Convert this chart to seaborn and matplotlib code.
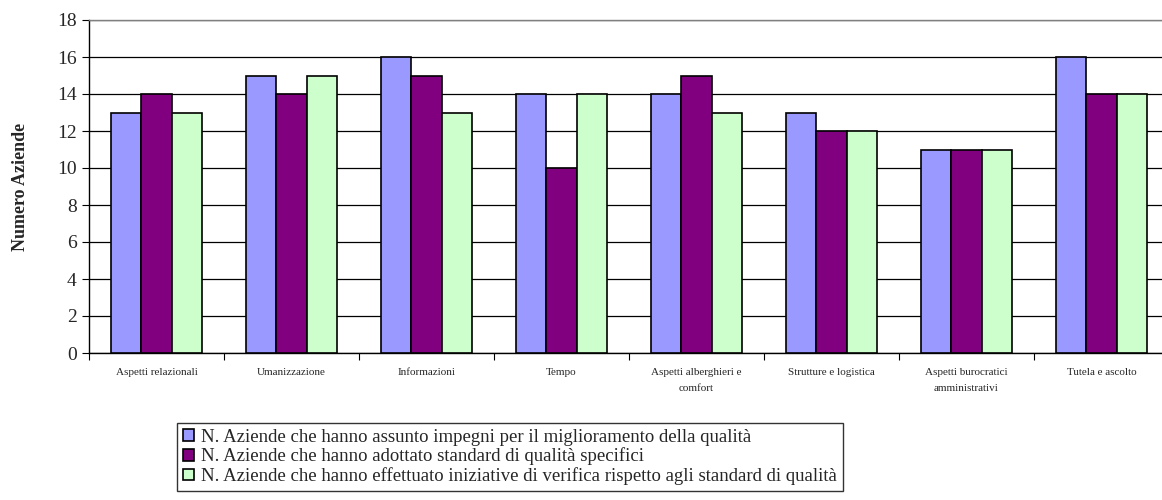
import matplotlib
matplotlib.use('Agg')
import matplotlib.pyplot as plt
import seaborn as sns
import pandas as pd
import numpy as np

# Data
categories = ['Aspetti relazionali', 'Umanizzazione', 'Informazioni', 'Tempo',
              'Aspetti alberghieri e\ncomfort', 'Strutture e logistica',
              'Aspetti burocratici\namministrativi', 'Tutela e ascolto']
series = ['N. Aziende che hanno assunto impegni per il miglioramento della qualità',
          'N. Aziende che hanno adottato standard di qualità specifici',
          'N. Aziende che hanno effettuato iniziative di verifica rispetto agli standard di qualità']
impegni = [13, 15, 16, 14, 14, 13, 11, 16]
standard = [14, 14, 15, 10, 15, 12, 11, 14]
verifica = [13, 15, 13, 14, 13, 12, 11, 14]
colors = ['#9999FF', '#800080', '#CCFFCC']

df = pd.DataFrame({
    'categoria': categories * 3,
    'serie': [series[0]] * 8 + [series[1]] * 8 + [series[2]] * 8,
    'valore': impegni + standard + verifica,
})

sns.set_theme(style='white')
plt.rcParams['font.family'] = ['Liberation Serif', 'DejaVu Serif']

fig = plt.figure(figsize=(11.62, 5.0), dpi=100)
ax = fig.add_axes([89 / 1162, 1 - 353 / 500, 1080 / 1162, 333 / 500])

sns.barplot(data=df, x='categoria', y='valore', hue='serie', palette=colors,
            width=0.667, edgecolor='black', linewidth=1.2, saturation=1,
            ax=ax, zorder=3)

ax.set_ylim(0, 18)
ax.set_xlim(-0.5, len(categories) - 0.5)
ax.set_yticks(range(0, 19, 2))
ax.set_yticklabels([str(v) for v in range(0, 19, 2)], fontsize=14)
ax.yaxis.grid(True, color='black', linewidth=0.9, zorder=0)
ax.set_axisbelow(True)

# x labels at centers, ticks at category boundaries
ax.set_xticks(range(len(categories)))
ax.set_xticklabels(categories, fontsize=8, linespacing=2.0)
ax.tick_params(axis='x', which='major', length=0, pad=11)
ax.set_xticks(np.arange(-0.5, len(categories) - 0.4, 1), minor=True)
ax.tick_params(axis='x', which='minor', length=5, width=0.8, color='black', direction='out', bottom=True)
ax.tick_params(axis='y', length=5, width=0.8, color='black', direction='out', left=True, pad=4)

ax.set_xlabel('')
ax.set_ylabel('Numero Aziende', fontsize=13, fontweight='bold')
ax.yaxis.set_label_coords(-60 / 1080, 0.5)

for s in ['left', 'bottom']:
    ax.spines[s].set_color('black')
    ax.spines[s].set_linewidth(1)
ax.spines['top'].set_color('#808080')
ax.spines['top'].set_linewidth(1)
ax.spines['right'].set_visible(False)

handles, labels = ax.get_legend_handles_labels()
ax.legend_.remove()
leg = fig.legend(handles, labels, loc='upper left', bbox_to_anchor=(177 / 1162, 1 - 423 / 500),
                 fontsize=13.5, frameon=True, fancybox=False, edgecolor='black',
                 handlelength=0.6, handleheight=0.6, handletextpad=0.4,
                 labelspacing=0.1, borderpad=0.3, borderaxespad=0)
leg.get_frame().set_linewidth(1)

plt.savefig('out.png', dpi=100)
plt.close()
